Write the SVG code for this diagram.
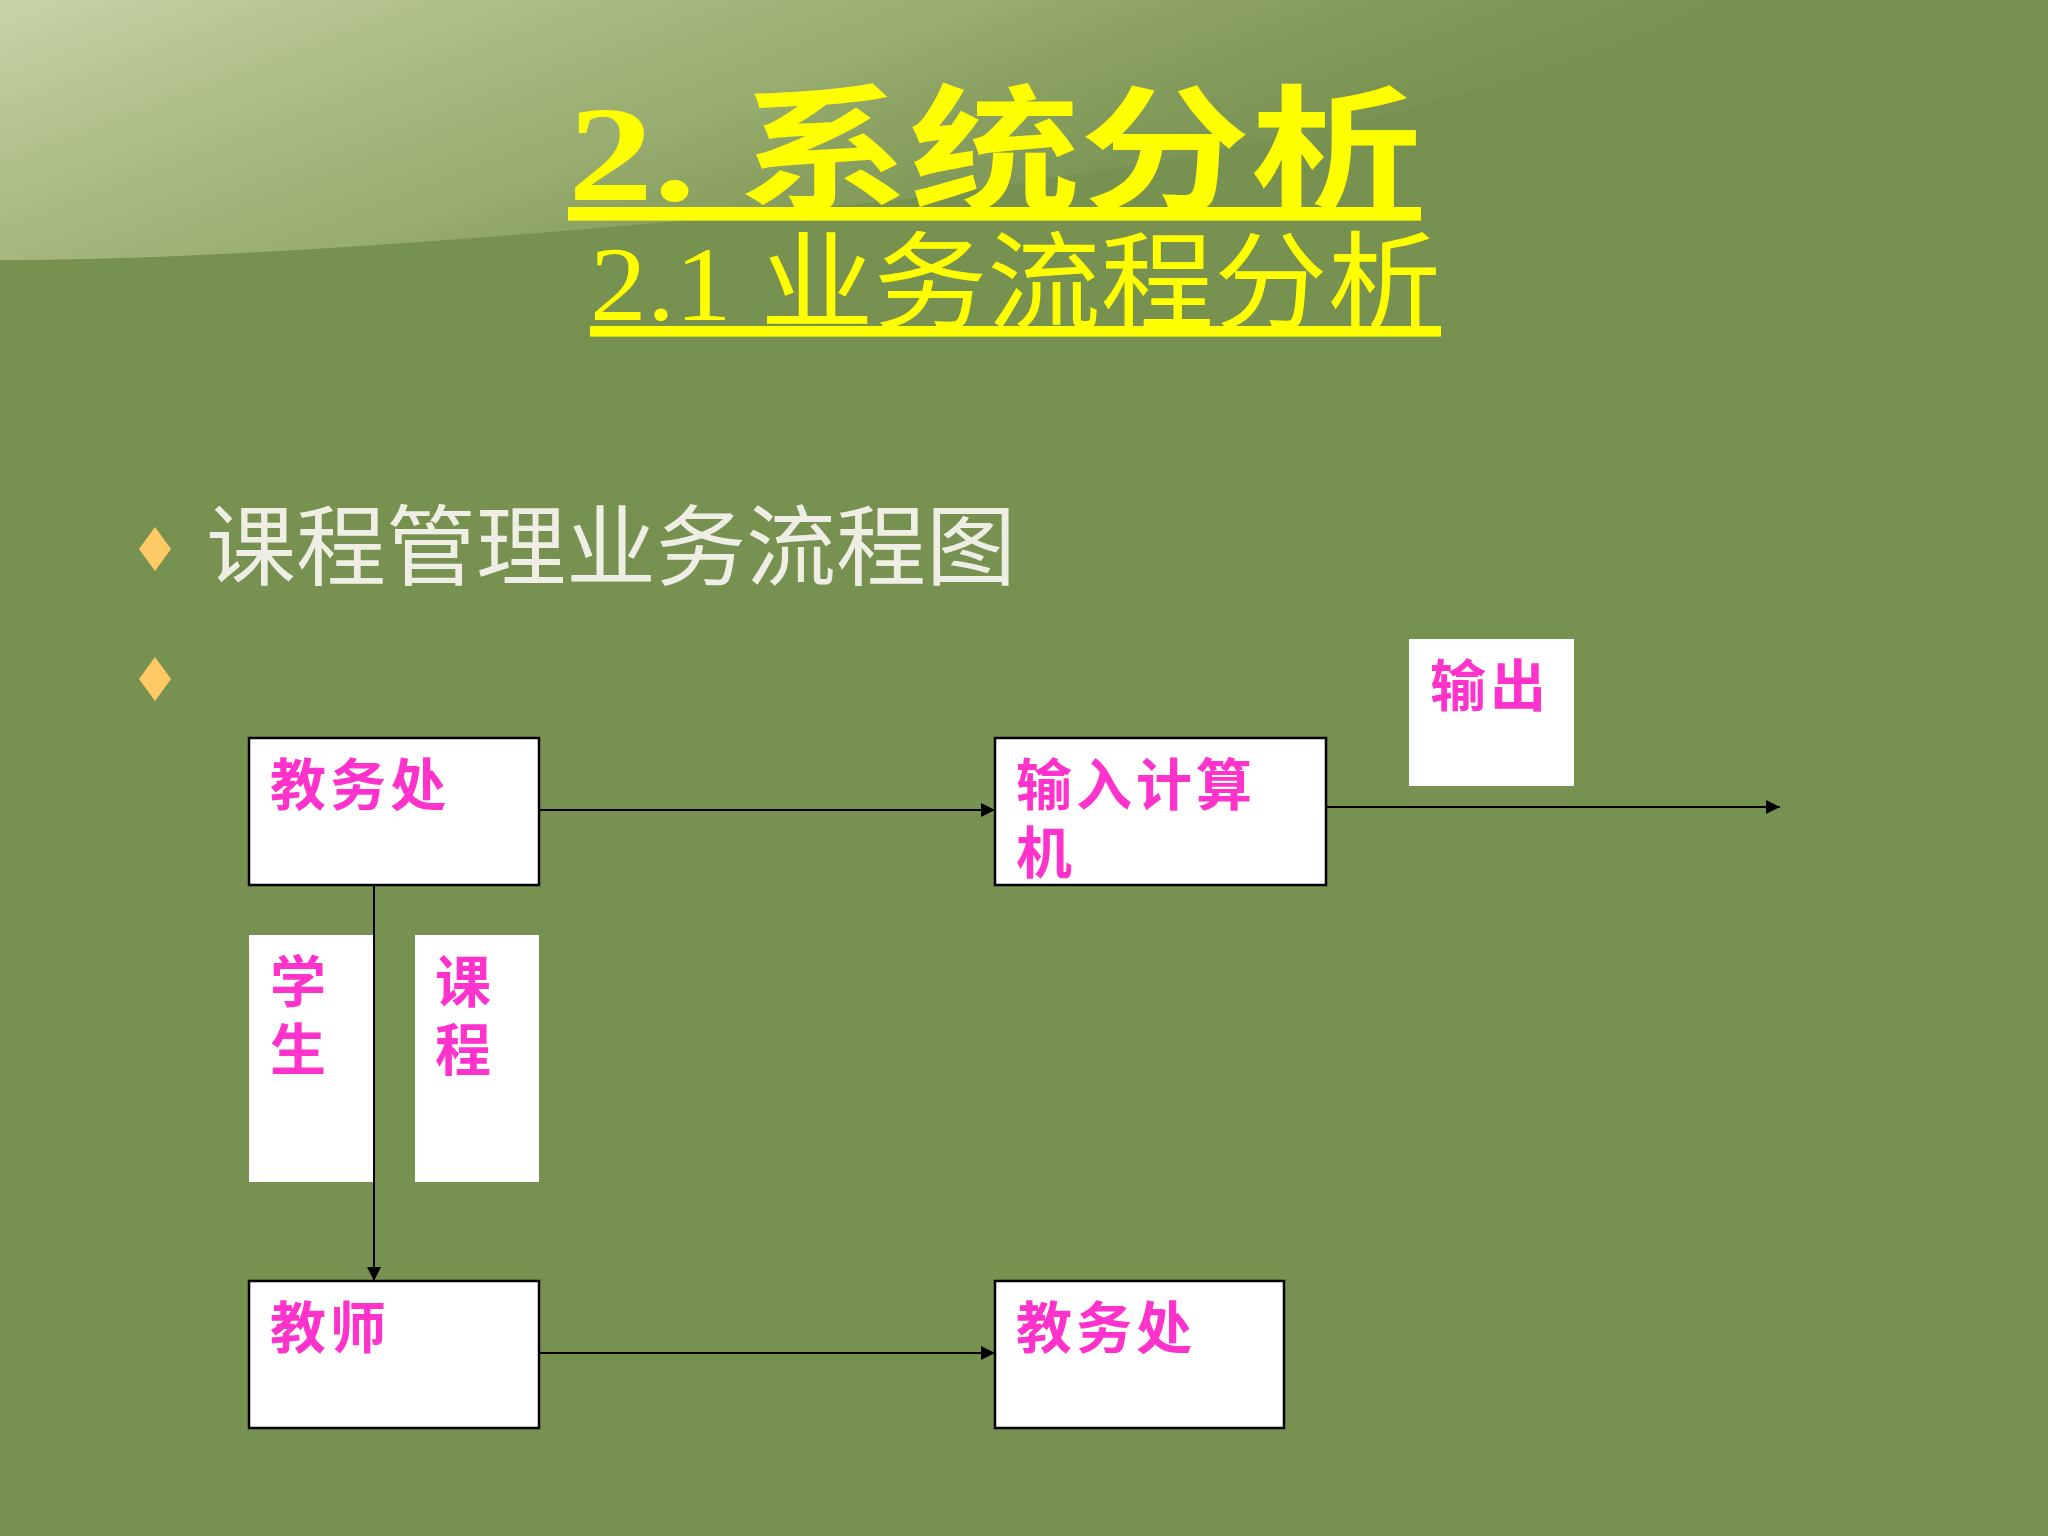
<svg xmlns="http://www.w3.org/2000/svg" width="2048" height="1536" viewBox="0 0 2048 1536">
<defs>
<style>
.box{fill:#fff;stroke:#000;stroke-width:2.5}
.nb{fill:#fff}
.lbl{font-family:"Liberation Serif","Noto Sans CJK SC",serif;font-weight:bold;font-size:56px;fill:#ff33cc;letter-spacing:4px}
.ln{stroke:#000;stroke-width:2;fill:none}
</style>
<marker id="a" viewBox="0 0 10 10" refX="10" refY="5" markerWidth="16" markerHeight="14" markerUnits="userSpaceOnUse" orient="auto"><path d="M0,0L10,5L0,10z" fill="#000"/></marker>
<linearGradient id="g" x1="0" y1="0" x2="1" y2="0.4"><stop offset="0" stop-color="#d8dfb8" stop-opacity="0.85"/><stop offset="0.5" stop-color="#b9c98e" stop-opacity="0.5"/><stop offset="1" stop-color="#779150" stop-opacity="0"/></linearGradient>
</defs>
<rect width="2048" height="1536" fill="#779150"/>
<path d="M0,0H1720Q1500,120 900,200Q300,260 0,260Z" fill="url(#g)"/>
<g id="title">
<text x="568" y="200" font-family="Liberation Serif,'Noto Sans CJK SC',serif" font-size="136" font-weight="bold" fill="#ffff00" text-decoration="underline" textLength="853" lengthAdjust="spacingAndGlyphs">2. 系统分析</text>
<text x="590" y="320" font-family="Liberation Serif,'Noto Sans CJK SC',serif" font-size="106" fill="#ffff00" text-decoration="underline" textLength="851" lengthAdjust="spacingAndGlyphs">2.1 业务流程分析</text>
</g>
<g id="bullets" fill="#ffc966">
<path d="M155,527L171,549L155,571L139,549Z"/>
<path d="M155,657L171,679L155,701L139,679Z"/>
<text x="206" y="578" font-family="'Noto Sans CJK SC',sans-serif" font-size="88" fill="#eeeee4" textLength="810" lengthAdjust="spacingAndGlyphs">课程管理业务流程图</text>
</g>
<g id="connectors">
<line class="ln" x1="539" y1="810" x2="995" y2="810" marker-end="url(#a)"/>
<line class="ln" x1="1326" y1="807" x2="1780" y2="807" marker-end="url(#a)"/>
<line class="ln" x1="374" y1="885" x2="374" y2="1281" marker-end="url(#a)"/>
<line class="ln" x1="539" y1="1353" x2="995" y2="1353" marker-end="url(#a)"/>
</g>
<g id="n1"><rect class="box" x="249" y="738" width="290" height="147"/><text class="lbl" x="270" y="805">教务处</text></g>
<g id="n2"><rect class="box" x="995" y="738" width="331" height="147"/><text class="lbl" x="1016" y="805">输入计算</text><text class="lbl" x="1016" y="873">机</text></g>
<g id="n3"><rect class="nb" x="1409" y="639" width="165" height="147"/><text class="lbl" x="1430" y="706">输出</text></g>
<g id="n4"><rect class="nb" x="249" y="935" width="124" height="247"/><text class="lbl" x="270" y="1002">学</text><text class="lbl" x="270" y="1070">生</text></g>
<g id="n5"><rect class="nb" x="415" y="935" width="124" height="247"/><text class="lbl" x="435" y="1002">课</text><text class="lbl" x="435" y="1070">程</text></g>
<g id="n6"><rect class="box" x="249" y="1281" width="290" height="147"/><text class="lbl" x="270" y="1348">教师</text></g>
<g id="n7"><rect class="box" x="995" y="1281" width="289" height="147"/><text class="lbl" x="1016" y="1348">教务处</text></g>
</svg>
